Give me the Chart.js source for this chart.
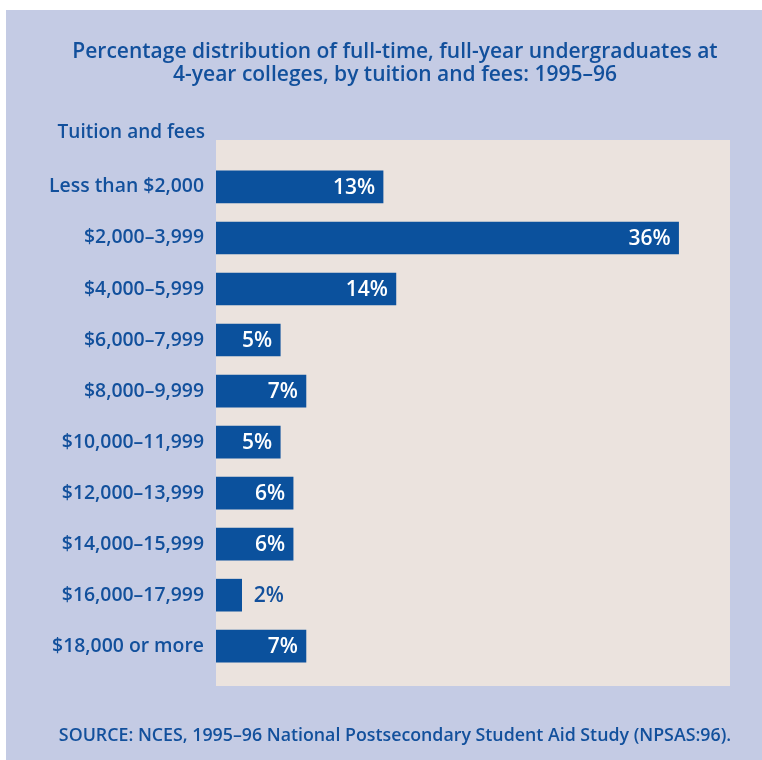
<!DOCTYPE html>
<html>
<head>
<meta charset="utf-8">
<script src="https://cdn.jsdelivr.net/npm/chart.js@4"></script>
<style>
  html, body { margin: 0; padding: 0; background: #ffffff; }
  #wrap { width: 762px; height: 760px; }
</style>
</head>
<body>
<div id="wrap"><canvas id="chart" width="762" height="760"></canvas></div>
<script>
// Text drawn around the chart
const titleLines = [
  'Percentage distribution of full-time, full-year undergraduates at',
  '4-year colleges, by tuition and fees: 1995–96'
];
const axisCaption = 'Tuition and fees';
const sourceNote = 'SOURCE: NCES, 1995–96 National Postsecondary Student Aid Study (NPSAS:96).';

// Tuition bands (one bar each) and their share of students, in percent
const tuitionBands = [
  'Less than $2,000',
  '$2,000–3,999',
  '$4,000–5,999',
  '$6,000–7,999',
  '$8,000–9,999',
  '$10,000–11,999',
  '$12,000–13,999',
  '$14,000–15,999',
  '$16,000–17,999',
  '$18,000 or more'
];
const sharePercent = [13, 36, 14, 5, 7, 5, 6, 6, 2, 7];

const FONT = '"Open Sans", "Noto Sans", sans-serif';
const INK = '#12509c';
const BAR = '#0b519d';
const PANEL = '#c4cbe4';
const PLOT_BG = '#ebe3de';

// Lavender panel and the beige plot field
const backdrop = {
  id: 'backdrop',
  beforeDraw(chart) {
    const { ctx, width, height, chartArea: a } = chart;
    ctx.save();
    ctx.fillStyle = '#ffffff';
    ctx.fillRect(0, 0, width, height);
    ctx.fillStyle = PANEL;
    ctx.fillRect(6, 10, width - 6, height - 10);
    ctx.fillStyle = PLOT_BG;
    ctx.fillRect(a.left, a.top, a.right - a.left, a.bottom - a.top);
    ctx.restore();
  }
};

// Percent labels at the end of each bar: inside in white, outside in blue when the bar is short
const valueLabels = {
  id: 'valueLabels',
  afterDatasetsDraw(chart) {
    const { ctx } = chart;
    const meta = chart.getDatasetMeta(0);
    ctx.save();
    ctx.font = '600 21px ' + FONT;
    ctx.textBaseline = 'middle';
    meta.data.forEach((bar, i) => {
      const text = sharePercent[i] + '%';
      const w = ctx.measureText(text).width;
      const len = bar.x - bar.base;
      if (len > w + 14) {
        ctx.fillStyle = '#ffffff';
        ctx.textAlign = 'right';
        ctx.fillText(text, bar.x - 8, bar.y + 1);
      } else {
        ctx.fillStyle = INK;
        ctx.textAlign = 'left';
        ctx.fillText(text, bar.x + 12, bar.y + 1);
      }
    });
    ctx.restore();
  }
};

// Heading, axis caption and source line
const captions = {
  id: 'captions',
  afterDraw(chart) {
    const { ctx } = chart;
    ctx.save();
    ctx.fillStyle = INK;
    ctx.textBaseline = 'middle';
    ctx.textAlign = 'center';
    ctx.font = '600 21px ' + FONT;
    ctx.fillText(titleLines[0], 395, 52);
    ctx.fillText(titleLines[1], 395, 75);
    ctx.textAlign = 'right';
    ctx.font = '600 19px ' + FONT;
    ctx.fillText(axisCaption, 205, 133);
    ctx.textAlign = 'center';
    ctx.font = '600 17.8px ' + FONT;
    ctx.fillText(sourceNote, 395, 736);
    ctx.restore();
  }
};

new Chart(document.getElementById('chart'), {
  type: 'bar',
  data: {
    datasets: [{
      data: sharePercent.map((v, i) => ({ x: v, y: i })),
      backgroundColor: BAR,
      borderWidth: 0,
      barThickness: 32
    }]
  },
  options: {
    indexAxis: 'y',
    responsive: false,
    animation: false,
    layout: { padding: { top: 140, bottom: 74, left: 0, right: 32 } },
    plugins: {
      legend: { display: false },
      tooltip: { enabled: false },
      title: { display: false }
    },
    scales: {
      x: {
        type: 'linear',
        display: false,
        min: 0,
        max: 40
      },
      y: {
        type: 'linear',
        reverse: true,
        offset: false,
        min: -0.92,
        max: 9.78,
        grid: { display: false, drawTicks: false, offset: false },
        border: { display: false },
        afterBuildTicks(scale) {
          scale.ticks = tuitionBands.map((_, i) => ({ value: i }));
        },
        afterFit(scale) {
          scale.width = 216;
        },
        ticks: {
          padding: 12,
          color: INK,
          font: { family: FONT, size: 19.4, weight: '600' },
          callback: (v) => tuitionBands[v] ?? ''
        }
      }
    }
  },
  plugins: [backdrop, valueLabels, captions]
});
</script>
</body>
</html>
